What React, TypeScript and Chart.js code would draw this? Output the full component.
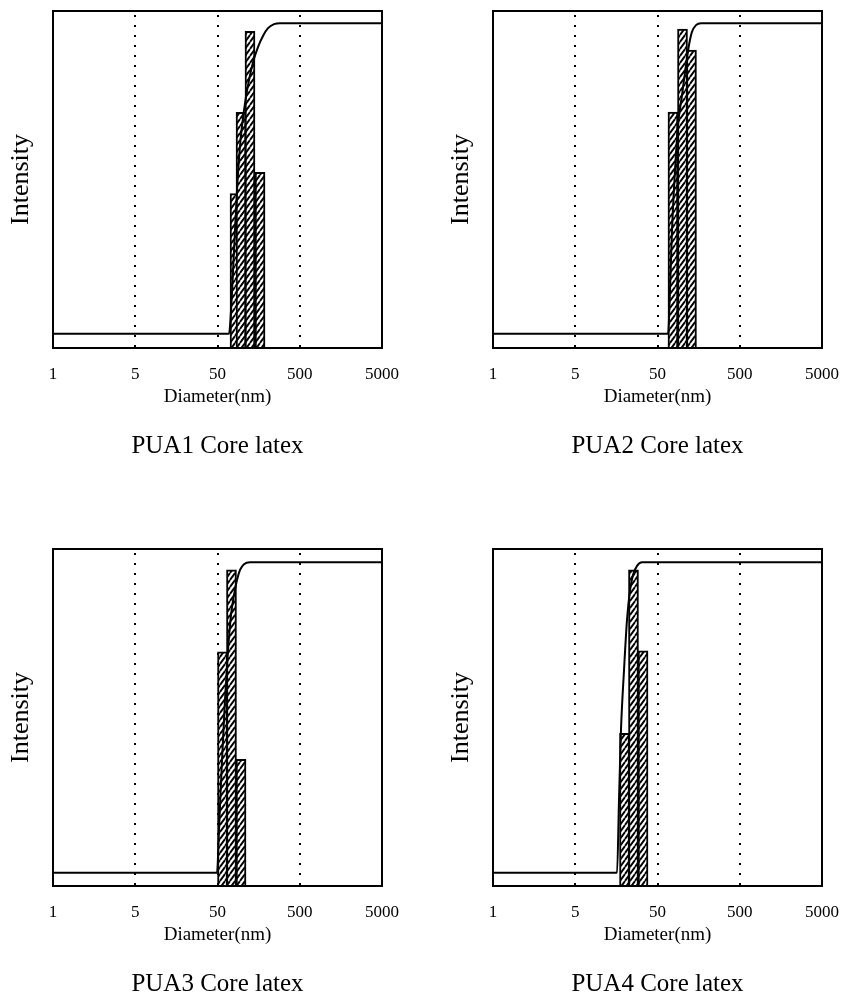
import React, { useEffect, useRef } from 'react';
import { Chart, registerables } from 'chart.js';

Chart.register(...registerables);

// Axis: evenly spaced decades labelled as in the original figure
const tickLabels = ['1', '5', '50', '500', '5000'];
const dottedAt = [1, 2, 3];
const xAxisTitle = 'Diameter(nm)';
const yAxisTitle = 'Intensity';

const titles = ['PUA1 Core latex', 'PUA2 Core latex', 'PUA3 Core latex', 'PUA4 Core latex'];

// PUA1
const pua1BarX = [2.213, 2.286, 2.395, 2.517];
const pua1BarY = [45.8, 69.9, 94.0, 52.1];
const pua1CurveX = [0, 2.14, 2.164, 2.201, 2.237, 2.274, 2.322, 2.371, 2.432, 2.492, 2.553, 2.614, 2.687, 2.76, 4];
const pua1CurveY = [4.2, 4.2, 11.0, 28.9, 46.7, 60.1, 70.5, 78.0, 84.8, 89.3, 92.6, 94.9, 96.1, 96.4, 96.4];

// PUA2
const pua2BarX = [2.188, 2.304, 2.413];
const pua2BarY = [70.0, 94.6, 88.4];
const pua2CurveX = [0, 2.128, 2.152, 2.176, 2.213, 2.249, 2.298, 2.346, 2.383, 2.419, 2.468, 2.529, 4];
const pua2CurveY = [4.2, 4.2, 17.0, 34.8, 52.7, 66.1, 75.0, 83.9, 89.9, 93.8, 95.8, 96.4, 96.4];

// PUA3
const pua3BarX = [2.061, 2.17, 2.286];
const pua3BarY = [69.5, 93.8, 37.6];
const pua3CurveX = [0, 1.994, 2.018, 2.055, 2.091, 2.128, 2.164, 2.201, 2.237, 2.274, 2.322, 2.395, 4];
const pua3CurveY = [3.9, 3.9, 16.6, 37.4, 55.2, 70.0, 80.4, 86.4, 90.8, 93.8, 95.5, 96.1, 96.1];

// PUA4
const pua4BarX = [1.599, 1.708, 1.824];
const pua4BarY = [45.3, 93.8, 69.8];
const pua4CurveX = [0, 1.508, 1.532, 1.556, 1.593, 1.629, 1.666, 1.702, 1.751, 1.812, 4];
const pua4CurveY = [3.9, 3.9, 25.5, 46.3, 64.1, 78.9, 87.8, 92.3, 95.0, 96.1, 96.1];

const panels = [
  { title: titles[0], barX: pua1BarX, barY: pua1BarY, curveX: pua1CurveX, curveY: pua1CurveY, left: 0, top: 0 },
  { title: titles[1], barX: pua2BarX, barY: pua2BarY, curveX: pua2CurveX, curveY: pua2CurveY, left: 440, top: 0 },
  { title: titles[2], barX: pua3BarX, barY: pua3BarY, curveX: pua3CurveX, curveY: pua3CurveY, left: 0, top: 538 },
  { title: titles[3], barX: pua4BarX, barY: pua4BarY, curveX: pua4CurveX, curveY: pua4CurveY, left: 440, top: 538 },
];

const FONT = "'Liberation Serif', 'Times New Roman', serif";

function makeHatch(): CanvasPattern | string {
  const c = document.createElement('canvas');
  const w = 5;
  const h = 7;
  c.width = w;
  c.height = h;
  const g = c.getContext('2d');
  if (!g) return '#fff';
  g.fillStyle = '#fff';
  g.fillRect(0, 0, w, h);
  g.strokeStyle = '#000';
  g.lineWidth = 1.9;
  g.beginPath();
  g.moveTo(0, h);
  g.lineTo(w, 0);
  g.moveTo(-w, h);
  g.lineTo(0, 0);
  g.moveTo(w, h);
  g.lineTo(2 * w, 0);
  g.stroke();
  return g.createPattern(c, 'repeat') || '#fff';
}

const framePlugin = {
  id: 'frameAndDots',
  beforeDatasetsDraw(chart: any) {
    const { ctx, chartArea, scales } = chart;
    ctx.save();
    ctx.strokeStyle = '#000';
    ctx.lineWidth = 2;
    ctx.setLineDash([2, 8]);
    dottedAt.forEach((v) => {
      const x = Math.round(scales.x.getPixelForValue(v));
      ctx.beginPath();
      ctx.moveTo(x, chartArea.top + 4);
      ctx.lineTo(x, chartArea.bottom);
      ctx.stroke();
    });
    ctx.restore();
  },
  afterDatasetsDraw(chart: any) {
    const { ctx, chartArea } = chart;
    ctx.save();
    ctx.strokeStyle = '#000';
    ctx.lineWidth = 2;
    ctx.setLineDash([]);
    ctx.strokeRect(chartArea.left, chartArea.top, chartArea.right - chartArea.left, chartArea.bottom - chartArea.top);
    ctx.restore();
  },
};

function Panel({ p }: { p: any }) {
  const ref = useRef<HTMLCanvasElement>(null);
  useEffect(() => {
    if (!ref.current) return;
    const hatch = makeHatch();
    const chart = new Chart(ref.current, {
      type: 'bar',
      data: {
        datasets: [
          {
            type: 'line',
            data: p.curveX.map((x: number, i: number) => ({ x, y: p.curveY[i] })),
            borderColor: '#000',
            borderWidth: 2,
            pointRadius: 0,
            cubicInterpolationMode: 'monotone',
            fill: false,
            order: 0,
          } as any,
          {
            type: 'bar',
            data: p.barX.map((x: number, i: number) => ({ x, y: p.barY[i] })),
            backgroundColor: hatch as any,
            borderColor: '#000',
            borderWidth: 2,
            barThickness: 10,
            grouped: false,
            order: 1,
          } as any,
        ],
      },
      options: {
        responsive: false,
        animation: false,
        layout: { padding: { top: 11, right: 48, left: 0, bottom: 0 } },
        plugins: {
          legend: { display: false },
          tooltip: { enabled: false },
          title: {
            display: true,
            position: 'bottom',
            text: p.title,
            color: '#000',
            fullSize: false,
            font: { family: FONT, size: 25, weight: 'normal', lineHeight: 1.2 },
            padding: { top: 23, bottom: 0 },
          },
        },
        scales: {
          x: {
            type: 'linear',
            min: 0,
            max: 4,
            offset: false,
            grid: { display: false, offset: false },
            border: { display: false },
            ticks: {
              stepSize: 1,
              autoSkip: false,
              maxRotation: 0,
              padding: 8,
              color: '#000',
              font: { family: FONT, size: 17 },
              callback: (v: any) => tickLabels[v] ?? '',
            },
            title: {
              display: true,
              text: xAxisTitle,
              color: '#000',
              font: { family: FONT, size: 19, lineHeight: 1.1 },
              padding: { top: 0, bottom: 1 },
            },
            afterFit: (s: any) => {
              s.height = 60;
            },
          },
          y: {
            min: 0,
            max: 100,
            grid: { display: false },
            border: { display: false },
            ticks: { display: false },
            title: {
              display: true,
              text: yAxisTitle,
              color: '#000',
              font: { family: FONT, size: 26, lineHeight: 1.2 },
              padding: { top: 6, bottom: 0 },
            },
            afterFit: (s: any) => {
              s.width = 53;
            },
          },
        },
      } as any,
      plugins: [framePlugin],
    });
    return () => chart.destroy();
  }, [p]);
  return (
    <canvas
      ref={ref}
      width={430}
      height={461}
      style={{ position: 'absolute', left: p.left, top: p.top, width: 430, height: 461 }}
    />
  );
}

export default function App() {
  return (
    <div
      style={{
        position: 'absolute',
        left: 0,
        top: 0,
        width: 849,
        height: 999,
        overflow: 'hidden',
        background: '#fff',
      }}
    >
      {panels.map((p, i) => (
        <Panel key={i} p={p} />
      ))}
    </div>
  );
}
